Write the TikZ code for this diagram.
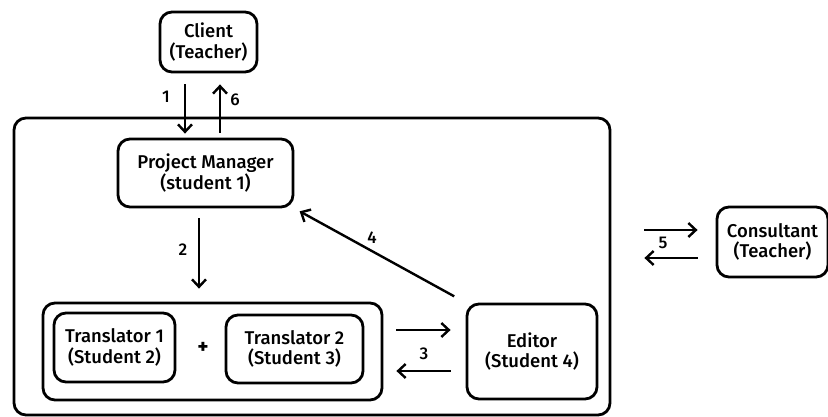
\documentclass[tikz,border=0pt]{standalone}
\usepackage{fontspec}
\setmainfont{Fira Sans Medium}
\usetikzlibrary{arrows.meta}

\tikzset{
  box/.style={draw, line width=2.8pt, rounded corners=12pt, align=center,
    inner sep=0pt, font=\fontsize{18.5}{20.5}\selectfont},
  arr/.style={line width=2.4pt, -{Straight Barb[length=7.5pt,width=14pt,line width=2.4pt]}},
  num/.style={font=\fontsize{17}{18}\selectfont}
}

\begin{document}
\begin{tikzpicture}[x=1pt, y=-1pt]
    \useasboundingbox (0,0) rectangle (828,417);

    \node[box, minimum width=596pt, minimum height=297pt] (team) at (312,266.5) {};
    \node[box, minimum width=339pt, minimum height=97pt] (group) at (212.5,351.5) {};

    \node[box, minimum width=97pt, minimum height=60pt] (client) at (208.5,42) {Client\\(Teacher)};
    \node[box, minimum width=175pt, minimum height=68pt] (pm) at (205.5,173) {Project Manager\\(student 1)};
    \node[box, minimum width=121pt, minimum height=69pt] (tr1) at (114.5,347.5) {Translator 1\\(Student 2)};
    \node[box, minimum width=137pt, minimum height=68pt] (tr2) at (294.5,349) {Translator 2\\(Student 3)};
    \node[box, minimum width=130pt, minimum height=95pt] (editor) at (532,351.5) {Editor\\(Student 4)};
    \node[box, minimum width=111pt, minimum height=70pt] (consultant) at (772.5,242) {Consultant\\(Teacher)};
    \node[font=\fontsize{20}{20}\bfseries] (plus) at (203,348) {+};

    \draw[arr, shorten <=11pt, shorten >=4pt] ([xshift=-23.5pt]client.south) -- ([xshift=-23.5pt]client.south |- pm.north);
    \draw[arr, shorten <=5pt, shorten >=11pt] ([xshift=11.5pt]client.south |- pm.north) -- ([xshift=11.5pt]client.south);
    \draw[arr, shorten <=10pt, shorten >=13pt] ([xshift=-6.5pt]pm.south) -- ([xshift=-6.5pt]pm.south |- group.north);
    \draw[arr, shorten <=13pt, shorten >=15pt] ([yshift=21.5pt]group.east) -- ([yshift=21.5pt]group.east -| editor.west);
    \draw[arr, shorten <=15pt, shorten >=13pt] ([yshift=-19.5pt]group.east -| editor.west) -- ([yshift=-19.5pt]group.east);
    \draw[arr, shorten <=13pt, shorten >=6pt] (editor.north west) -- (pm.south east);
    \draw[arr, shorten <=33pt, shorten >=18pt] ([yshift=12pt]consultant.west -| team.east) -- ([yshift=12pt]consultant.west);
    \draw[arr, shorten <=18pt, shorten >=33pt] ([yshift=-16pt]consultant.west) -- ([yshift=-16pt]consultant.west -| team.east);

    \node[num] (n1) at (166,97) {1};
    \node[num] (n6) at (235,100) {6};
    \node[num] (n2) at (183,250) {2};
    \node[num] (n3) at (424,354) {3};
    \node[num] (n4) at (372,238) {4};
    \node[num] (n5) at (663,243) {5};
\end{tikzpicture}
\end{document}
